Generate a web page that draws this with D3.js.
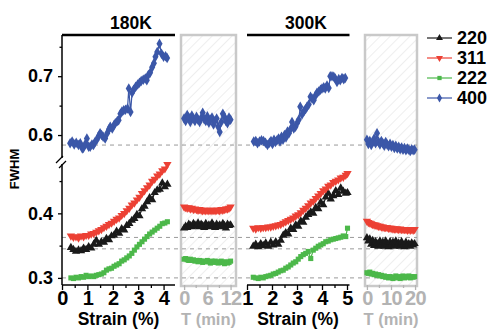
<!DOCTYPE html>
<html><head><meta charset="utf-8">
<script src="https://cdn.jsdelivr.net/npm/d3@7"></script>
<style>body{margin:0;background:#fff;} svg{display:block;font-family:"Liberation Sans",Arial,sans-serif;}</style>
</head><body><svg id="c" width="490" height="330"></svg>
<script>
// ---------- DATA ----------
const seriesNames = ["220", "311", "222", "400"];
const seriesColors = ["#1a1a1a", "#ec4034", "#4cb84a", "#3b57a8"];
const panelTitles = ["180K", "300K"];
const strainTicks180 = [0, 1, 2, 3, 4];
const strainTicks300 = [1, 2, 3, 4, 5];
const timeTicks180 = [0, 6, 12];
const timeTicks300 = [0, 10, 20];
const yTicksUpper = [0.6, 0.7];
const yTicksLower = [0.3, 0.4];
const refLevels = [0.583, 0.3627, 0.345, 0.300];

// 180K strain
const strain180 = [0.35,0.45,0.55,0.65,0.75,0.85,0.95,1.05,1.15,1.25,1.35,1.45,1.55,1.65,1.75,1.85,1.95,2.05,2.15,2.25,2.35,2.45,2.55,2.65,2.75,2.85,2.95,3.05,3.15,3.25,3.35,3.45,3.55,3.65,3.75,3.85,3.95,4.05,4.15];
const s180_311 = [0.365,0.363,0.364,0.362,0.365,0.364,0.366,0.366,0.368,0.369,0.371,0.373,0.375,0.378,0.380,0.383,0.385,0.388,0.391,0.393,0.397,0.400,0.404,0.408,0.413,0.416,0.421,0.425,0.431,0.435,0.440,0.444,0.450,0.453,0.458,0.461,0.466,0.469,0.476];
const s180_220 = [0.347,0.344,0.341,0.343,0.342,0.346,0.344,0.348,0.346,0.352,0.358,0.352,0.356,0.355,0.361,0.359,0.365,0.366,0.372,0.369,0.376,0.374,0.381,0.384,0.389,0.392,0.398,0.396,0.407,0.411,0.418,0.424,0.421,0.432,0.436,0.437,0.447,0.441,0.445];
const s180_222 = [0.300,0.299,0.301,0.300,0.302,0.301,0.304,0.302,0.303,0.302,0.304,0.305,0.306,0.308,0.312,0.314,0.315,0.318,0.320,0.322,0.326,0.328,0.331,0.334,0.338,0.343,0.348,0.352,0.356,0.360,0.364,0.368,0.371,0.374,0.377,0.380,0.384,0.385,0.387];
const strain180_400 = [0.32,0.40,0.48,0.56,0.65,0.72,0.80,0.84,0.92,0.98,1.05,1.11,1.18,1.24,1.30,1.37,1.44,1.50,1.56,1.62,1.70,1.78,1.85,1.90,1.98,2.05,2.10,2.18,2.23,2.30,2.36,2.43,2.50,2.58,2.63,2.70,2.76,2.82,2.90,2.98,3.05,3.12,3.20,3.28,3.34,3.40,3.47,3.55,3.62,3.68,3.75,3.84,3.92,4.00,4.08,4.14];
const s180_400 = [0.586,0.589,0.584,0.587,0.583,0.586,0.577,0.578,0.585,0.594,0.580,0.580,0.584,0.583,0.588,0.592,0.598,0.603,0.600,0.597,0.594,0.603,0.610,0.614,0.611,0.617,0.620,0.624,0.625,0.636,0.640,0.642,0.643,0.645,0.679,0.639,0.672,0.677,0.682,0.686,0.689,0.692,0.694,0.696,0.693,0.702,0.706,0.715,0.722,0.733,0.741,0.755,0.738,0.733,0.734,0.731];

// 180K time
const time180 = [0,0.4,0.8,1.2,1.6,2,2.4,2.8,3.2,3.6,4,4.4,4.8,5.2,5.6,6,6.4,6.8,7.2,7.6,8,8.4,8.8,9.2,9.6,10,10.4,10.8,11.2,11.6,12];
const t180_400 = [0.628,0.624,0.634,0.630,0.622,0.633,0.628,0.624,0.631,0.626,0.622,0.629,0.638,0.627,0.624,0.632,0.621,0.626,0.630,0.618,0.624,0.628,0.614,0.605,0.622,0.636,0.631,0.624,0.620,0.630,0.626];
const t180_311 = [0.410,0.409,0.408,0.409,0.407,0.408,0.406,0.407,0.406,0.405,0.406,0.405,0.404,0.405,0.404,0.405,0.404,0.405,0.404,0.405,0.404,0.405,0.405,0.404,0.406,0.405,0.406,0.407,0.407,0.408,0.410];
const t180_220 = [0.377,0.380,0.378,0.383,0.381,0.379,0.384,0.382,0.380,0.385,0.379,0.383,0.381,0.378,0.384,0.380,0.382,0.379,0.385,0.381,0.378,0.383,0.380,0.382,0.379,0.384,0.381,0.377,0.383,0.381,0.382];
const t180_222 = [0.329,0.330,0.328,0.327,0.329,0.327,0.328,0.326,0.327,0.325,0.327,0.326,0.324,0.326,0.325,0.327,0.325,0.323,0.326,0.324,0.326,0.325,0.323,0.324,0.326,0.324,0.322,0.325,0.323,0.324,0.326];

// 300K strain
const strain300 = [1.25,1.35,1.45,1.55,1.65,1.75,1.85,1.95,2.05,2.15,2.25,2.35,2.45,2.55,2.65,2.75,2.85,2.95,3.05,3.15,3.25,3.35,3.45,3.55,3.65,3.75,3.85,3.95,4.05,4.15,4.25,4.35,4.45,4.55,4.65,4.75,4.85,4.95,5.02];
const s300_311 = [0.377,0.376,0.378,0.377,0.378,0.378,0.379,0.379,0.380,0.381,0.382,0.383,0.385,0.387,0.389,0.391,0.393,0.396,0.398,0.401,0.405,0.408,0.412,0.416,0.419,0.423,0.427,0.431,0.435,0.438,0.442,0.444,0.448,0.450,0.452,0.455,0.456,0.459,0.462];
const s300_220 = [0.349,0.352,0.348,0.353,0.350,0.354,0.349,0.355,0.351,0.356,0.352,0.358,0.366,0.370,0.368,0.377,0.375,0.382,0.380,0.388,0.386,0.394,0.398,0.402,0.400,0.409,0.407,0.417,0.413,0.425,0.431,0.422,0.427,0.435,0.429,0.439,0.434,0.431,0.432];
const s300_222 = [0.301,0.300,0.299,0.301,0.300,0.302,0.303,0.304,0.306,0.307,0.309,0.311,0.312,0.315,0.317,0.320,0.323,0.325,0.329,0.333,0.336,0.338,0.341,0.330,0.343,0.346,0.349,0.351,0.353,0.356,0.357,0.359,0.360,0.361,0.362,0.363,0.365,0.364,0.377];
const strain300_400 = [1.27,1.35,1.42,1.50,1.58,1.66,1.74,1.82,1.90,1.96,2.02,2.08,2.14,2.20,2.26,2.32,2.38,2.44,2.50,2.56,2.62,2.68,2.74,2.80,2.87,2.94,3.00,3.07,3.13,3.20,3.27,3.34,3.40,3.47,3.54,3.60,3.67,3.74,3.80,3.87,3.94,4.00,4.07,4.13,4.20,4.27,4.33,4.40,4.47,4.53,4.60,4.67,4.73,4.80,4.87,4.93];
const s300_400 = [0.589,0.590,0.586,0.589,0.591,0.590,0.587,0.583,0.587,0.590,0.585,0.592,0.588,0.591,0.594,0.589,0.597,0.592,0.600,0.596,0.606,0.603,0.610,0.622,0.611,0.614,0.620,0.626,0.648,0.635,0.640,0.644,0.648,0.652,0.665,0.662,0.659,0.667,0.672,0.674,0.677,0.679,0.681,0.679,0.684,0.680,0.700,0.700,0.699,0.696,0.690,0.695,0.693,0.697,0.695,0.697];

// 300K time
const time300 = [0,0.6,1.2,1.8,2.4,3,3.6,4.2,4.8,5.4,6,6.6,7.2,7.8,8.4,9,9.6,10.2,10.8,11.4,12,12.6,13.2,13.8,14.4,15,15.6,16.2,16.8,17.4,18,18.6,19.2,19.8];
const t300_400 = [0.592,0.585,0.590,0.583,0.588,0.594,0.586,0.603,0.589,0.584,0.590,0.586,0.582,0.588,0.584,0.581,0.585,0.580,0.583,0.578,0.582,0.577,0.580,0.576,0.579,0.575,0.578,0.574,0.577,0.575,0.573,0.576,0.574,0.575];
const t300_311 = [0.388,0.386,0.385,0.384,0.383,0.382,0.382,0.381,0.380,0.380,0.379,0.379,0.378,0.378,0.378,0.377,0.377,0.377,0.376,0.376,0.376,0.376,0.375,0.376,0.375,0.375,0.375,0.375,0.374,0.375,0.374,0.375,0.374,0.375];
const t300_220 = [0.362,0.357,0.360,0.352,0.358,0.350,0.356,0.353,0.349,0.357,0.351,0.355,0.349,0.357,0.352,0.348,0.356,0.351,0.355,0.349,0.357,0.350,0.354,0.349,0.356,0.351,0.348,0.355,0.350,0.353,0.349,0.354,0.351,0.353];
const t300_222 = [0.308,0.307,0.309,0.306,0.307,0.305,0.306,0.304,0.305,0.303,0.304,0.302,0.303,0.301,0.302,0.300,0.302,0.301,0.299,0.301,0.303,0.300,0.302,0.299,0.301,0.303,0.300,0.302,0.301,0.303,0.300,0.302,0.301,0.302];

// ---------- DRAW ----------
const svg = d3.select("#c");
const FONT = '"Liberation Sans", Arial, sans-serif';
const yTop = 35, yBot = 285;
const yUp = d3.scaleLinear().domain([0.561, 0.77]).range([158, yTop]);
const yLo = d3.scaleLinear().domain([0.289, 0.478]).range([yBot, 163]);

const xP1 = d3.scaleLinear().domain([0, 4.45]).range([62, 175]);
const xP2 = d3.scaleLinear().domain([-0.8, 13.4]).range([181, 236]);
const xP3 = d3.scaleLinear().domain([1, 5.1]).range([247, 349.5]);
const xP4 = d3.scaleLinear().domain([-0.8, 20.8]).range([365, 417]);

// hatch pattern
const defs = svg.append("defs");
const pat = defs.append("pattern").attr("id", "hatch").attr("patternUnits", "userSpaceOnUse")
  .attr("width", 7).attr("height", 7).attr("patternTransform", "rotate(45)");
pat.append("rect").attr("width", 7).attr("height", 7).attr("fill", "#fff");
pat.append("line").attr("x1", 0).attr("y1", 0).attr("x2", 0).attr("y2", 7)
  .attr("stroke", "#e4e4e4").attr("stroke-width", 1.2);

[xP2, xP4].forEach(xs => {
  const [a, b] = xs.range();
  svg.append("rect").attr("x", a).attr("y", yTop).attr("width", b - a).attr("height", yBot - yTop + 1)
    .attr("fill", "url(#hatch)").attr("stroke", "#c9c9c9").attr("stroke-width", 2.5);
});

// reference dashed lines
refLevels.forEach((v, i) => {
  const y = i === 0 ? yUp(v) : yLo(v);
  svg.append("line").attr("x1", 62).attr("x2", 417).attr("y1", y).attr("y2", y)
    .attr("stroke", "#9a9a9a").attr("stroke-width", 1).attr("stroke-dasharray", "4,4");
});

// top black lines
[xP1, xP3].forEach(xs => {
  const [a, b] = xs.range();
  svg.append("line").attr("x1", a).attr("x2", b).attr("y1", yTop).attr("y2", yTop)
    .attr("stroke", "#000").attr("stroke-width", 2.5);
});

// y axis (broken)
function yAxis(scale, major, minor, y0, y1) {
  const g = svg.append("g").attr("transform", "translate(62,0)");
  g.call(d3.axisLeft(scale).tickValues(major).tickSize(4).tickPadding(5).tickFormat(d3.format(".1f")));
  g.append("g").call(d3.axisLeft(scale).tickValues(minor).tickSize(2.5).tickFormat(""));
  g.selectAll(".domain").remove();
  g.selectAll("line").attr("stroke", "#000").attr("stroke-width", 1.3);
  g.selectAll("text").attr("font-family", FONT).attr("font-size", 18).attr("font-weight", "bold").attr("fill", "#000");
  g.append("line").attr("x1", 0).attr("x2", 0).attr("y1", y0).attr("y2", y1).attr("stroke", "#000").attr("stroke-width", 1.5);
}
yAxis(yUp, yTicksUpper, [0.65, 0.75], yTop, 158);
yAxis(yLo, yTicksLower, [0.35, 0.45], 164, yBot);
// break marks
[[56, 163, 63, 156], [59, 168, 66, 161]].forEach(c => {
  svg.append("line").attr("x1", c[0]).attr("y1", c[1]).attr("x2", c[2]).attr("y2", c[3])
    .attr("stroke", "#000").attr("stroke-width", 1.3);
});

// x axes
function xAxis(scale, major, minor, color, drawDomain) {
  const g = svg.append("g").attr("transform", `translate(0,${yBot})`);
  g.call(d3.axisBottom(scale).tickValues(major).tickSize(5).tickPadding(1).tickFormat(d3.format("d")));
  g.append("g").call(d3.axisBottom(scale).tickValues(minor).tickSize(3).tickFormat(""));
  g.selectAll(".domain").remove();
  g.selectAll("line").attr("stroke", color).attr("stroke-width", 1.3);
  g.selectAll("text").attr("font-family", FONT).attr("font-size", 20).attr("font-weight", "bold")
    .attr("letter-spacing", "-0.6").attr("fill", color);
  if (drawDomain) {
    const [a, b] = scale.range();
    g.append("line").attr("x1", a).attr("x2", b).attr("y1", 0).attr("y2", 0).attr("stroke", color).attr("stroke-width", 1.5);
  }
}
xAxis(xP1, strainTicks180, [0.5, 1.5, 2.5, 3.5], "#000", true);
xAxis(xP3, strainTicks300, [1.5, 2.5, 3.5, 4.5], "#000", true);
xAxis(xP2, timeTicks180, [3, 9], "#b3b3b3", false);
xAxis(xP4, timeTicks300, [5, 15], "#b3b3b3", false);

// axis titles
function txt(x, y, s, size, color, anchor) {
  return svg.append("text").attr("x", x).attr("y", y).text(s).attr("font-family", FONT)
    .attr("font-size", size).attr("font-weight", "bold").attr("fill", color).attr("text-anchor", anchor || "middle");
}
txt(118.5, 325, "Strain (%)", 17.5, "#000");
txt(298, 325, "Strain (%)", 17.5, "#000");
txt(208.5, 325, "T (min)", 16.5, "#b3b3b3");
txt(391, 325, "T (min)", 16.5, "#b3b3b3");
txt(131, 28.5, panelTitles[0], 17.5, "#000");
txt(306, 28.5, panelTitles[1], 17.5, "#000");
svg.append("text").attr("transform", "translate(19,169) rotate(-90)").attr("text-anchor", "middle")
  .text("FWHM").attr("font-family", FONT).attr("font-size", 13).attr("font-weight", "bold").attr("fill", "#000");

// symbols
const symTypes = [d3.symbolTriangle, d3.symbolTriangle, d3.symbolSquare, d3.symbolDiamond];
const symSizes = [30, 30, 26, 32];
const symRot = [0, 180, 0, 0];

function drawSeries(xs, ys, xScale, yScale, k) {
  const g = svg.append("g");
  const pts = xs.map((x, i) => [xScale(x), yScale(ys[i])]);
  g.append("path").attr("d", d3.line()(pts)).attr("fill", "none")
    .attr("stroke", seriesColors[k]).attr("stroke-width", 1.2);
  const sym = d3.symbol().type(symTypes[k]).size(symSizes[k]);
  g.selectAll("path.m").data(pts).join("path").attr("class", "m")
    .attr("d", sym).attr("fill", seriesColors[k])
    .attr("transform", d => `translate(${d[0]},${d[1]}) rotate(${symRot[k]})`);
}

// 180K strain
drawSeries(strain180, s180_222, xP1, yLo, 2);
drawSeries(strain180, s180_220, xP1, yLo, 0);
drawSeries(strain180, s180_311, xP1, yLo, 1);
drawSeries(strain180_400, s180_400, xP1, yUp, 3);
// 180K time
drawSeries(time180, t180_222, xP2, yLo, 2);
drawSeries(time180, t180_220, xP2, yLo, 0);
drawSeries(time180, t180_311, xP2, yLo, 1);
drawSeries(time180, t180_400, xP2, yUp, 3);
// 300K strain
drawSeries(strain300, s300_222, xP3, yLo, 2);
drawSeries(strain300, s300_220, xP3, yLo, 0);
drawSeries(strain300, s300_311, xP3, yLo, 1);
drawSeries(strain300_400, s300_400, xP3, yUp, 3);
// 300K time
drawSeries(time300, t300_222, xP4, yLo, 2);
drawSeries(time300, t300_220, xP4, yLo, 0);
drawSeries(time300, t300_311, xP4, yLo, 1);
drawSeries(time300, t300_400, xP4, yUp, 3);

// legend
seriesNames.forEach((name, k) => {
  const y = 38 + k * 20;
  const g = svg.append("g");
  g.append("line").attr("x1", 427).attr("x2", 452).attr("y1", y).attr("y2", y)
    .attr("stroke", seriesColors[k]).attr("stroke-width", 1.2);
  g.append("path").attr("d", d3.symbol().type(symTypes[k]).size(symSizes[k] * 0.7)())
    .attr("fill", seriesColors[k]).attr("transform", `translate(439.5,${y}) rotate(${symRot[k]})`);
  g.append("text").attr("x", 457).attr("y", y).attr("dy", "0.36em").text(name)
    .attr("font-family", FONT).attr("font-size", 18).attr("font-weight", "bold").attr("fill", "#000");
});
</script></body></html>
